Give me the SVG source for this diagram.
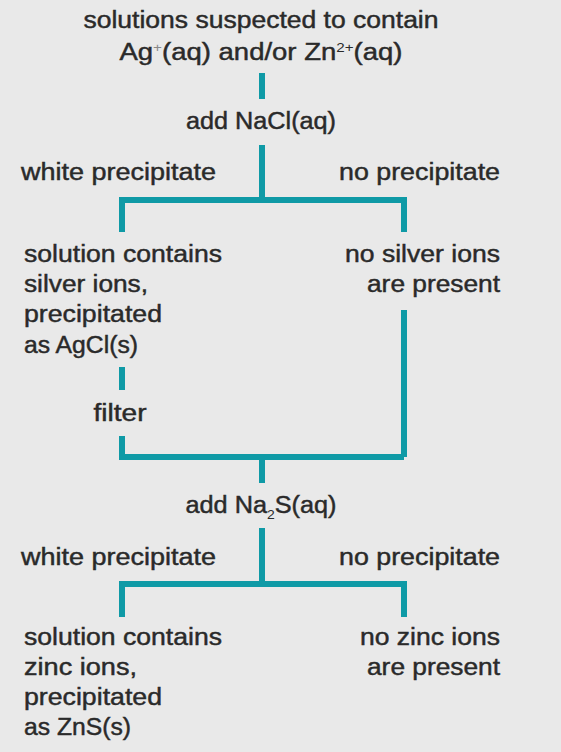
<svg xmlns="http://www.w3.org/2000/svg" width="561" height="752" viewBox="0 0 561 752">
<style>
text{font-family:"Liberation Sans",Arial,sans-serif;font-size:23.5px;fill:#2a2a2a;stroke:#2a2a2a;stroke-width:0.45}
.c{text-anchor:middle}
.r{text-anchor:end}
.sup{font-size:13px}
line{stroke:#0f9aa6;stroke-width:6;stroke-linecap:butt}
polyline{stroke:#0f9aa6;stroke-width:6;fill:none;stroke-linejoin:miter}
</style>
<rect width="561" height="752" fill="#e9e9e9"/>
<g id="connectors">
<line x1="262" y1="73" x2="262" y2="99"/>
<line x1="262" y1="145" x2="262" y2="200"/>
<polyline points="122,232 122,200 404,200 404,232"/>
<line x1="404" y1="310" x2="404" y2="457"/>
<line x1="122" y1="367" x2="122" y2="390"/>
<polyline points="122,436 122,457 404,457"/>
<line x1="262" y1="457" x2="262" y2="483"/>
<line x1="262" y1="528" x2="262" y2="584"/>
<polyline points="122,617 122,584 404,584 404,617"/>
</g>
<g id="start">
<text class="c" x="261" y="28" textLength="355" lengthAdjust="spacingAndGlyphs">solutions suspected to contain</text>
<text class="c" x="261" y="60" textLength="283" lengthAdjust="spacingAndGlyphs">Ag<tspan class="sup" dy="-8" fill="#888" stroke="none">+</tspan><tspan dy="8">(aq) and/or Zn</tspan><tspan class="sup" dy="-8" stroke="none">2+</tspan><tspan dy="8">(aq)</tspan></text>
</g>
<g id="add-nacl">
<text class="c" x="261" y="129" textLength="150" lengthAdjust="spacingAndGlyphs">add NaCl(aq)</text>
</g>
<g id="label-white-1">
<text x="21" y="180" textLength="195" lengthAdjust="spacingAndGlyphs">white precipitate</text>
</g>
<g id="label-none-1">
<text class="r" x="500" y="180" textLength="161" lengthAdjust="spacingAndGlyphs">no precipitate</text>
</g>
<g id="silver-present">
<text x="24" y="262" textLength="198" lengthAdjust="spacingAndGlyphs">solution contains</text>
<text x="24" y="292" textLength="124" lengthAdjust="spacingAndGlyphs">silver ions,</text>
<text x="24" y="322" textLength="138" lengthAdjust="spacingAndGlyphs">precipitated</text>
<text x="24" y="353" textLength="114" lengthAdjust="spacingAndGlyphs">as AgCl(s)</text>
</g>
<g id="silver-absent">
<text class="r" x="500" y="262" textLength="155" lengthAdjust="spacingAndGlyphs">no silver ions</text>
<text class="r" x="500" y="292" textLength="133" lengthAdjust="spacingAndGlyphs">are present</text>
</g>
<g id="filter">
<text class="c" x="120" y="421" textLength="53" lengthAdjust="spacingAndGlyphs">filter</text>
</g>
<g id="add-na2s">
<text class="c" x="261" y="513" textLength="151" lengthAdjust="spacingAndGlyphs">add Na<tspan class="sup" dy="6" stroke="none">2</tspan><tspan dy="-6">S(aq)</tspan></text>
</g>
<g id="label-white-2">
<text x="21" y="565" textLength="195" lengthAdjust="spacingAndGlyphs">white precipitate</text>
</g>
<g id="label-none-2">
<text class="r" x="500" y="565" textLength="161" lengthAdjust="spacingAndGlyphs">no precipitate</text>
</g>
<g id="zinc-present">
<text x="24" y="645" textLength="198" lengthAdjust="spacingAndGlyphs">solution contains</text>
<text x="24" y="675" textLength="113" lengthAdjust="spacingAndGlyphs">zinc ions,</text>
<text x="24" y="705" textLength="138" lengthAdjust="spacingAndGlyphs">precipitated</text>
<text x="24" y="735" textLength="107" lengthAdjust="spacingAndGlyphs">as ZnS(s)</text>
</g>
<g id="zinc-absent">
<text class="r" x="500" y="645" textLength="140" lengthAdjust="spacingAndGlyphs">no zinc ions</text>
<text class="r" x="500" y="675" textLength="133" lengthAdjust="spacingAndGlyphs">are present</text>
</g>
</svg>
